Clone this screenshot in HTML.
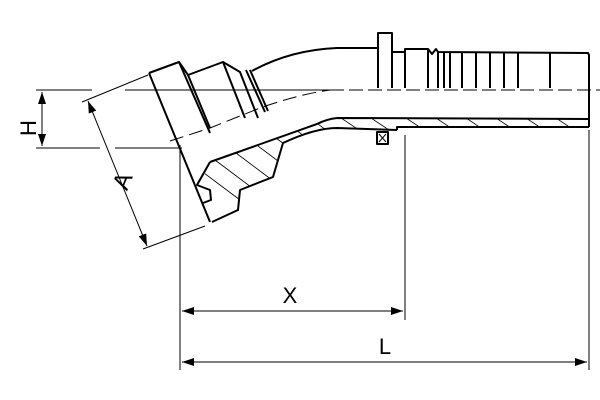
<!DOCTYPE html>
<html><head><style>body{margin:0;background:#fff}svg{display:block}</style></head><body>
<svg width="600" height="400" viewBox="0 0 600 400" xmlns="http://www.w3.org/2000/svg" font-family="Liberation Sans, sans-serif">
<defs>
<marker id="ar" markerWidth="12" markerHeight="8" refX="12" refY="4" orient="auto-start-reverse" markerUnits="userSpaceOnUse"><path d="M0,0 L12,4 L0,8 Z" fill="#000"/></marker>
<clipPath id="wall"><path d="M210,162 L317,124 Q327,119 337,118 L589,119 L589,127 L400,127 L397,130 L337,128 Q315,128 283,143 L278,160 L273,177 L240,190 L238,210 L212,222 L200,185 Z"/></clipPath>
</defs>
<g stroke="#000" fill="none">
<g stroke-width="1">
<line x1="36" y1="90" x2="92" y2="90"/>
<line x1="36" y1="148" x2="100" y2="148"/>
<line x1="115" y1="148" x2="182" y2="148"/>
<line x1="42" y1="92" x2="42" y2="146" marker-start="url(#ar)" marker-end="url(#ar)"/>
<line x1="82" y1="102" x2="148" y2="75"/>
<line x1="143" y1="249" x2="205" y2="226"/>
<line x1="88" y1="101" x2="147" y2="246" marker-start="url(#ar)" marker-end="url(#ar)"/>
<line x1="180" y1="145" x2="180" y2="370"/>
<line x1="405" y1="135" x2="405" y2="320"/>
<line x1="589" y1="130" x2="589" y2="370"/>
<line x1="182" y1="311" x2="403" y2="311" marker-start="url(#ar)" marker-end="url(#ar)"/>
<line x1="182" y1="362" x2="587" y2="362" marker-start="url(#ar)" marker-end="url(#ar)"/>
<line x1="125" y1="90" x2="330" y2="90"/>
<line x1="330" y1="90" x2="600" y2="90" stroke-dasharray="14,5"/>
<path d="M170,141 L210,128 L260,108 Q300,94 330,90" stroke-dasharray="14,6"/>
</g>
<g clip-path="url(#wall)" stroke-width="0.8">
<path d="M200,170 l40,30 M215,160 l40,30 M232,150 l40,30 M250,140 l40,30 M268,132 l40,30 M288,124 l40,30 M310,118 l40,30 M335,114 l30,20 M365,114 l30,20 M400,114 l30,20 M430,114 l30,20 M460,114 l30,20 M490,114 l30,20 M520,114 l30,20 M550,114 l30,20"/>
</g>
<g stroke-width="2" stroke-linejoin="round">
<path d="M149,73 L179,62 L210,133"/>
<path d="M149,73 L210,222"/>
<path d="M188,75 L223,62 L245,118"/>
<path d="M179,62 L188,75 L210,128"/>
<path d="M223,62 L240,72 L258,118"/>
<path d="M246,70 L265,112 M250,70 L268,111"/>
<path d="M252,71 Q290,50 337,48 L378,48"/>
<path d="M378,88 L378,33 L392,33 L392,88"/>
<path d="M392,52 L405,52 L405,49 L428,49 L432,54 L436,49 L438,52 L588,53 L589,55 L589,127"/>
<path d="M405,52 L405,88 M428,49 L428,88 M438,52 L438,88 M444,53 L444,88 M450,53 L450,88 M462,53 L462,88 M476,53 L476,88 M490,53 L490,88 M504,53 L504,88 M518,53 L518,88 M550,53 L550,88"/>
<path d="M210,162 L317,124 Q327,119 337,118 L589,119"/>
<path d="M400,127 L589,127"/>
<path d="M397,130 L337,128 Q315,128 283,143 L278,160 L273,177 L240,190 L238,210 L212,222"/>
<path d="M210,162 L197,185 L210,190 L211,200 L203,203"/>
<rect x="377" y="132" width="11" height="12"/>
<path d="M397,130 L397,127 L400,127"/>
</g>
<path d="M379,134 l7,8 M386,134 l-7,8" stroke-width="1"/>
</g>
<text x="20" y="128" font-size="22" transform="rotate(-90 28 120)" text-anchor="middle">H</text>
<text x="0" y="0" font-size="24" text-anchor="middle" transform="translate(130,184) rotate(-68)">A</text>
<text x="290" y="303" font-size="22" text-anchor="middle">X</text>
<text x="385" y="354" font-size="22" text-anchor="middle">L</text>
</svg>
</body></html>
